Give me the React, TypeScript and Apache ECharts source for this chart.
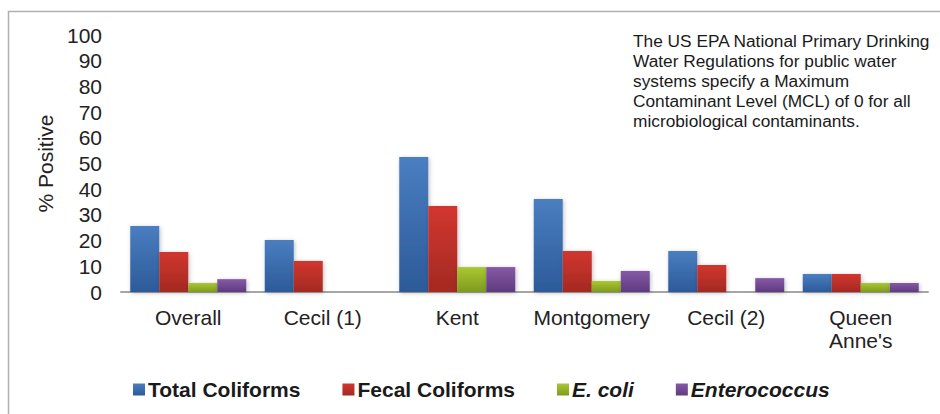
import React, { useEffect, useRef } from "react";
import * as echarts from "echarts";

const categories = ["Overall", "Cecil (1)", "Kent", "Montgomery", "Cecil (2)", "Queen\nAnne's"];
const seriesNames = ["Total Coliforms", "Fecal Coliforms", "E. coli", "Enterococcus"];
const totalColiforms = [25.7, 20.2, 52.5, 36.2, 16.0, 7.0];
const fecalColiforms = [15.6, 12.1, 33.5, 16.0, 10.5, 7.0];
const eColi = [3.5, 0, 9.7, 4.3, 0, 3.5];
const enterococcus = [5.0, 0, 9.7, 8.2, 5.4, 3.5];
const yTicks = [0, 10, 20, 30, 40, 50, 60, 70, 80, 90, 100];
const noteLines = [
  "The US EPA National Primary Drinking",
  "Water Regulations for public water",
  "systems specify a Maximum",
  "Contaminant Level (MCL) of 0 for all",
  "microbiological contaminants.",
];

const FONT = "'Liberation Sans', Arial, sans-serif";

const grad = (top: string, bottom: string) =>
  new echarts.graphic.LinearGradient(0, 0, 0, 1, [
    { offset: 0, color: top },
    { offset: 1, color: bottom },
  ]);

export default function App() {
  const ref = useRef<HTMLDivElement>(null);
  useEffect(() => {
    if (!ref.current) return;
    const chart = echarts.init(ref.current, undefined, { renderer: "svg" });
    const colors = [
      grad("#4a7ec0", "#2c5a99"),
      grad("#d2362f", "#a32a22"),
      grad("#aac831", "#7e9a1f"),
      grad("#8659a6", "#5f3b80"),
    ];
    const data = [totalColiforms, fecalColiforms, eColi, enterococcus];
    chart.setOption({
      animation: false,
      textStyle: { fontFamily: FONT },
      grid: { left: 121, right: 12, top: 35, height: 257 },
      legend: {
        left: 128,
        top: 374,
        itemWidth: 12,
        itemHeight: 12,
        itemGap: 42,
        icon: "rect",
        data: seriesNames,
        formatter: (n: string) =>
          n === "E. coli" || n === "Enterococcus" ? `{i|${n}}` : `{b|${n}}`,
        textStyle: {
          fontFamily: FONT,
          fontSize: 21,
          color: "#1a1a1a",
          padding: [0, 0, 0, -2],
          rich: {
            b: { fontFamily: FONT, fontSize: 21, fontWeight: "bold", color: "#1a1a1a" },
            i: { fontFamily: FONT, fontSize: 21, fontWeight: "bold", fontStyle: "italic", color: "#1a1a1a" },
          },
        },
      },
      xAxis: {
        type: "category",
        data: categories,
        axisLine: { lineStyle: { color: "#a6a6a6", width: 2 } },
        axisTick: { show: false },
        axisLabel: {
          fontFamily: FONT,
          fontSize: 21,
          lineHeight: 23,
          color: "#222",
          margin: 14,
          interval: 0,
        },
      },
      yAxis: {
        type: "value",
        min: yTicks[0],
        max: yTicks[yTicks.length - 1],
        interval: 10,
        name: "% Positive",
        nameLocation: "middle",
        nameGap: 59,
        nameTextStyle: { fontFamily: FONT, fontSize: 21, color: "#222" },
        axisLine: { show: false },
        axisTick: { show: false },
        splitLine: { show: false },
        axisLabel: { fontFamily: FONT, fontSize: 21, color: "#222", margin: 19 },
      },
      series: seriesNames.map((name, i) => ({
        name,
        type: "bar",
        data: data[i],
        barWidth: 29,
        barGap: "0%",
        itemStyle: {
          color: colors[i],
          shadowBlur: 4,
          shadowColor: "rgba(0,0,0,0.25)",
          shadowOffsetX: 1,
          shadowOffsetY: 1,
        },
      })),
      graphic: [
        {
          type: "rect",
          shape: { x: 8.5, y: 11.5, width: 1000, height: 1000 },
          style: { fill: "none", stroke: "#b0b0b0", lineWidth: 1.5 },
          silent: true,
        },
        {
          type: "text",
          x: 633,
          y: 31,
          style: {
            text: noteLines.join("\n"),
            fontFamily: FONT,
            fontSize: 17.3,
            lineHeight: 20,
            fill: "#1a1a1a",
            align: "left",
            verticalAlign: "top",
          },
        },
      ],
    });
    return () => chart.dispose();
  }, []);
  return (
    <div
      ref={ref}
      style={{ position: "fixed", left: 0, top: 0, width: 940, height: 414, background: "#fff" }}
    />
  );
}
